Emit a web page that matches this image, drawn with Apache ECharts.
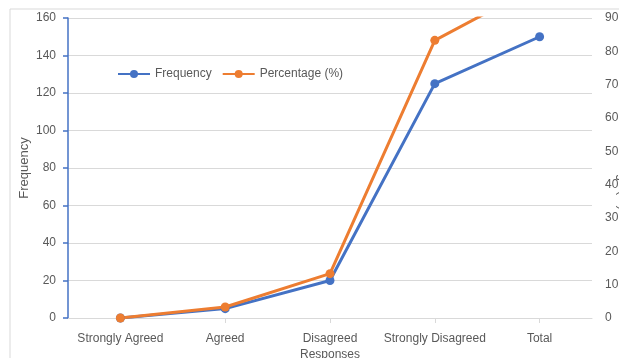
<!DOCTYPE html>
<html>
<head>
<meta charset="utf-8">
<script src="https://cdn.jsdelivr.net/npm/echarts@6/dist/echarts.min.js"></script>
<style>
  html, body { margin: 0; padding: 0; background: #fff; }
  #graphContainer { width: 619px; height: 358px; }
</style>
</head>
<body>
<div id="graphContainer"></div>
<script>
var categories = ['Strongly Agreed', 'Agreed', 'Disagreed', 'Strongly Disagreed', 'Total'];
var frequency = [0, 5, 20, 125, 150];
var percentage = [0, 3.3, 13.3, 83.3, 100];
var leftTicks = [0, 160, 20];
var rightTicks = [0, 90, 10];

var textColor = '#595959';
var gridColor = '#d9d9d9';
var fontName = 'Liberation Sans';

var dom = document.getElementById('graphContainer');
var myEChart = echarts.init(dom, null, { renderer: 'canvas' });

var option = {
	animation: false,
	textStyle: { fontFamily: fontName },
	graphic: [{
		type: 'rect',
		shape: { x: 10, y: 9, width: 700, height: 400 },
		style: { fill: 'none', stroke: gridColor, lineWidth: 1 },
		silent: true
	}],
	grid: {
		left: 68,
		right: 27,
		top: 18,
		bottom: 40,
		containLabel: false,
		outerBoundsMode: 'none'
	},
	legend: {
		left: 112,
		top: 63,
		itemWidth: 32,
		itemHeight: 10,
		itemGap: 10,
		textStyle: { color: textColor, fontSize: 12, fontFamily: fontName },
		data: ['Frequency', 'Percentage (%)']
	},
	xAxis: {
		type: 'category',
		data: categories,
		boundaryGap: true,
		name: 'Responses',
		nameLocation: 'middle',
		nameGap: 31,
		nameMoveOverlap: false,
		nameTextStyle: { color: textColor, fontSize: 12 },
		axisLine: { lineStyle: { color: gridColor, width: 1 } },
		axisTick: { show: true, alignWithLabel: true, length: 5, lineStyle: { color: gridColor } },
		axisLabel: { color: textColor, fontSize: 12, margin: 15, interval: 0 }
	},
	yAxis: [
		{
			type: 'value',
			min: leftTicks[0],
			max: leftTicks[1],
			interval: leftTicks[2],
			name: 'Frequency',
			nameLocation: 'middle',
			nameGap: 37,
			nameMoveOverlap: false,
			nameTextStyle: { color: textColor, fontSize: 13 },
			axisLine: { show: true, lineStyle: { color: '#4472C4', width: 1.5 } },
			axisTick: { show: true, length: 5, lineStyle: { color: '#4472C4', width: 1.5 } },
			axisLabel: { color: textColor, fontSize: 12, margin: 12 },
			splitLine: { lineStyle: { color: gridColor, width: 1 } }
		},
		{
			type: 'value',
			min: rightTicks[0],
			max: rightTicks[1],
			interval: rightTicks[2],
			position: 'right',
			name: 'Percentage (%)',
			nameLocation: 'middle',
			nameRotate: -90,
			nameGap: 24,
			nameMoveOverlap: false,
			nameTextStyle: { color: textColor, fontSize: 12 },
			axisLine: { show: false },
			axisTick: { show: false },
			axisLabel: { color: textColor, fontSize: 12, margin: 13 },
			splitLine: { show: false }
		}
	],
	series: [
		{
			name: 'Frequency',
			type: 'line',
			data: frequency,
			yAxisIndex: 0,
			symbol: 'circle',
			symbolSize: 9,
			itemStyle: { color: '#4472C4' },
			lineStyle: { color: '#4472C4', width: 3 }
		},
		{
			name: 'Percentage (%)',
			type: 'line',
			data: percentage,
			yAxisIndex: 1,
			clip: true,
			symbol: 'circle',
			symbolSize: 9,
			itemStyle: { color: '#ED7D31' },
			lineStyle: { color: '#ED7D31', width: 3 }
		}
	]
};

myEChart.setOption(option);
window.addEventListener('resize', myEChart.resize);
</script>
</body>
</html>
